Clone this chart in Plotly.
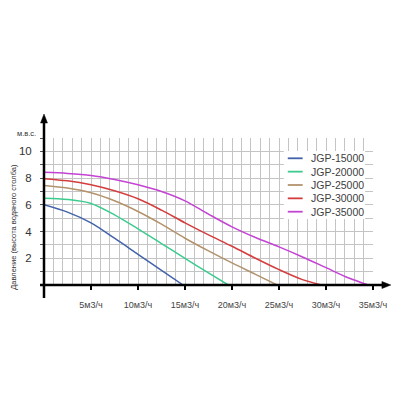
import plotly.graph_objects as go

# ---- data ----
series_names = ["JGP-15000", "JGP-20000", "JGP-25000", "JGP-30000", "JGP-35000"]
series_colors = ["#4262aa", "#3ccb8e", "#b3926c", "#d43d3d", "#c443d4"]

flow_15000 = [0, 2.5, 5, 7.5, 10, 12.5, 14.8]
head_15000 = [6.0, 5.45, 4.65, 3.5, 2.3, 1.1, 0]

flow_20000 = [0, 2.5, 5, 7.5, 10, 12.5, 15, 17.5, 19.6]
head_20000 = [6.5, 6.4, 6.1, 5.25, 4.2, 3.1, 2.0, 0.9, 0]

flow_25000 = [0, 2.5, 5, 7.5, 10, 12.5, 15, 17.5, 20, 22.5, 24.8]
head_25000 = [7.45, 7.25, 6.9, 6.3, 5.5, 4.55, 3.5, 2.55, 1.65, 0.8, 0]

flow_30000 = [0, 2.5, 5, 7.5, 10, 12.5, 15, 17.5, 20, 22.5, 25, 27.5, 29.5]
head_30000 = [7.96, 7.8, 7.5, 7.05, 6.45, 5.6, 4.65, 3.75, 2.9, 2.0, 1.15, 0.4, 0]

flow_35000 = [0, 2.5, 5, 7.5, 10, 12.5, 15, 17.5, 20, 22.5, 25, 27.5, 30, 32.5, 34.5]
head_35000 = [8.43, 8.35, 8.2, 7.9, 7.5, 7.0, 6.3, 5.3, 4.35, 3.55, 2.85, 2.1, 1.3, 0.5, 0]

flows = [flow_15000, flow_20000, flow_25000, flow_30000, flow_35000]
heads = [head_15000, head_20000, head_25000, head_30000, head_35000]

x_tick_vals = [5, 10, 15, 20, 25, 30, 35]
x_tick_labels = ["5м3/ч", "10м3/ч", "15м3/ч", "20м3/ч", "25м3/ч", "30м3/ч", "35м3/ч"]
y_tick_vals = [2, 4, 6, 8, 10]
y_tick_labels = ["2", "4", "6", "8", "10"]

y_title = "Давление (высота водяного столба)"
unit_label = "м.в.с."

# ---- figure ----
L, W, T, H = 44, 332, 138, 147


def px(x):
    return (x - L) / W


def py(y):
    return (T + H - y) / H


fig = go.Figure()
for name, color, fx, hy in zip(series_names, series_colors, flows, heads):
    fig.add_trace(go.Scatter(
        x=fx, y=hy, mode="lines", name=name,
        line=dict(color=color, width=1.5, shape="spline", smoothing=0.9),
        showlegend=False, cliponaxis=True,
    ))

grid_color = "#c4c4c4"
sans = "Liberation Sans, Arial, sans-serif"

fig.update_layout(
    width=400, height=400,
    margin=dict(l=L, r=400 - L - W, t=T, b=400 - T - H),
    paper_bgcolor="white", plot_bgcolor="white",
    xaxis=dict(
        range=[0, 35], tickvals=x_tick_vals, ticktext=x_tick_labels,
        showgrid=True, gridcolor=grid_color, gridwidth=1,
        zeroline=False, showline=False,
        ticks="outside", ticklen=4, tickcolor="black", tickwidth=1.5,
        ticklabelstandoff=7,
        tickfont=dict(family=sans, size=9, color="#444"),
        minor=dict(dtick=1, tick0=0, showgrid=True, gridcolor=grid_color, gridwidth=1, ticks=""),
    ),
    yaxis=dict(
        range=[0, 11], tickvals=y_tick_vals, ticktext=y_tick_labels,
        showgrid=True, gridcolor=grid_color, gridwidth=1,
        zeroline=False, showline=False,
        ticks="outside", ticklen=3, tickcolor="#555", tickwidth=1,
        ticklabelstandoff=6,
        tickfont=dict(family=sans, size=11.5, color="#333"),
        minor=dict(dtick=1, tick0=0, showgrid=True, gridcolor=grid_color, gridwidth=1,
                   ticks="outside", ticklen=3, tickcolor="#555"),
    ),
)

shapes = []
# axes lines with arrows
shapes.append(dict(type="line", xref="paper", yref="paper",
                   x0=px(40), x1=px(387), y0=py(285), y1=py(285),
                   line=dict(color="black", width=2.5), layer="above"))
shapes.append(dict(type="line", xref="paper", yref="paper",
                   x0=px(44), x1=px(44), y0=py(298), y1=py(122),
                   line=dict(color="black", width=2.5), layer="above"))
shapes.append(dict(type="path", xref="paper", yref="paper",
                   path=f"M {px(394)} {py(285)} L {px(385)} {py(281.5)} L {px(385)} {py(288.5)} Z",
                   fillcolor="black", line=dict(color="black", width=0.5), layer="above"))
shapes.append(dict(type="path", xref="paper", yref="paper",
                   path=f"M {px(44)} {py(114)} L {px(40.5)} {py(123)} L {px(47.5)} {py(123)} Z",
                   fillcolor="black", line=dict(color="black", width=0.5), layer="above"))
# legend background
shapes.append(dict(type="rect", xref="paper", yref="paper",
                   x0=px(286), x1=px(368), y0=py(219), y1=py(151),
                   fillcolor="white", line=dict(width=0), layer="above"))

annotations = []
leg_y0, leg_dy = 158.3, 13.35
for i, (name, color) in enumerate(zip(series_names, series_colors)):
    yy = leg_y0 + i * leg_dy
    shapes.append(dict(type="line", xref="paper", yref="paper",
                       x0=px(290), x1=px(305), y0=py(yy), y1=py(yy),
                       line=dict(color=color, width=1.8), layer="above"))
    annotations.append(dict(x=px(311), y=py(yy), xref="paper", yref="paper",
                            text=name, showarrow=False, xanchor="left", yanchor="middle",
                            font=dict(family=sans, size=10.5, color="#404040")))

annotations.append(dict(x=px(26), y=py(133), xref="paper", yref="paper",
                        text=unit_label, showarrow=False, xanchor="center", yanchor="middle",
                        font=dict(family=sans, size=7.5, color="#333")))
annotations.append(dict(x=px(13), y=py(226.5), xref="paper", yref="paper",
                        text=y_title, showarrow=False, textangle=-90,
                        xanchor="center", yanchor="middle",
                        font=dict(family=sans, size=7.5, color="#333")))

fig.update_layout(shapes=shapes, annotations=annotations)
fig.write_html("out.html")
